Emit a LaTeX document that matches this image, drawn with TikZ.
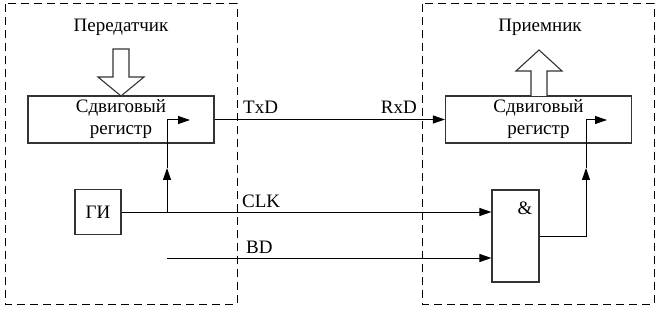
\documentclass[tikz,border=0pt]{standalone}
\usepackage{fontspec}
\setmainfont{Liberation Serif}
\usetikzlibrary{arrows.meta,positioning}

\begin{document}
\begin{tikzpicture}[
  x=1pt, y=-1pt,
  font=\fontsize{19}{22}\selectfont,
  frame/.style={draw=black, dash pattern=on 8pt off 5pt, line width=1pt},
  block/.style={draw=black!80, line width=1.1pt, align=center, inner sep=0pt},
  sig/.style={inner sep=0pt},
  wire/.style={draw=black, line width=1pt},
  arrow/.style={wire, -{Triangle[length=12pt, width=8pt]}},
  bus/.style={draw=black!80, line width=1.1pt, fill=white}
]
\useasboundingbox (0,0) rectangle (659,310);

% transmitter and receiver frames
\draw[frame] (5,4) rectangle (237,304);
\draw[frame] (422,4) rectangle (654,304);

\node[sig] (txtitle) at (121,27) {Передатчик};
\node[sig] (rxtitle) at (540,27) {Приемник};

\node[block, minimum width=186pt, minimum height=47pt] (txreg) at (121,119.5) {Сдвиговый\\регистр};
\node[block, minimum width=186pt, minimum height=47pt] (rxreg) at (538.5,119.5) {Сдвиговый\\регистр};
\node[block, minimum width=46pt, minimum height=45pt] (gen) at (98,212) {ГИ};
\node[block, minimum width=47pt, minimum height=92pt] (andg) at (515.5,236) {};
\node[sig] (andsym) at (525,208) {\&};

% parallel buses
\draw[bus] (113,49) -- (129,49) -- (129,77) -- (144,77) -- (121,96) -- (98,77) -- (113,77) -- cycle;
\draw[bus] (531,96) -- (531,71) -- (516,71) -- (539,50) -- (562,71) -- (547,71) -- (547,96);

\coordinate (txup) at (167,168);
\coordinate (txclk) at (190,120);
\coordinate (rxup) at (586,168);
\coordinate (rxclk) at (607,120);
\coordinate (bdin) at (167,258);

\draw[arrow] (txreg.east) -- (rxreg.west);
\draw[arrow] (gen.east) -- (gen.east -| andg.west);
\draw[arrow] (gen.east -| txup) -- (txup);
\draw[arrow] (txup) |- (txclk);
\draw[arrow] (bdin) -- (bdin -| andg.west);
\draw[arrow] (andg.east) -| (rxup);
\draw[arrow] (rxup) |- (rxclk);

\node[sig, anchor=west] (txd) at (243,107) {TxD};
\node[sig, anchor=east] (rxd) at (417,107) {RxD};
\node[sig, anchor=west] (clk) at (242,201) {CLK};
\node[sig, anchor=west] (bd) at (246,247) {BD};
\end{tikzpicture}
\end{document}
